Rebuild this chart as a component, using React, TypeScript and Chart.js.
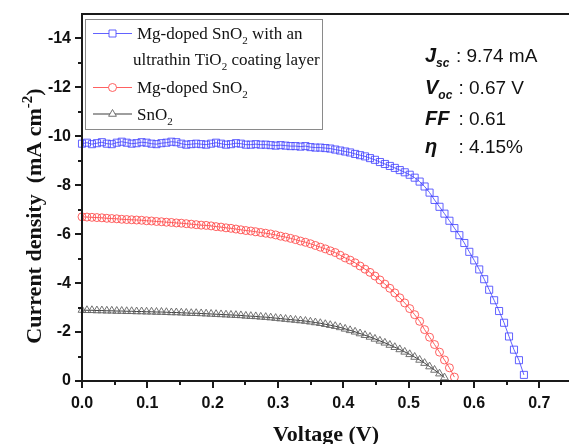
import React, { useEffect, useRef } from 'react';
import { Chart, registerables } from 'chart.js';

Chart.register(...registerables);

// Voltage scan step (V) shared by all three J–V curves
const V_STEP = 0.0076;

// Current density (mA cm-2), one value per voltage step
const BLUE_J = [
  -9.70, -9.74, -9.68, -9.72, -9.76, -9.70, -9.68, -9.74, -9.78, -9.74,
  -9.70, -9.72, -9.76, -9.74, -9.70, -9.68, -9.72, -9.74, -9.78, -9.76,
  -9.70, -9.66, -9.68, -9.70, -9.68, -9.66, -9.70, -9.74, -9.70, -9.66,
  -9.68, -9.72, -9.70, -9.66, -9.66, -9.68, -9.66, -9.66, -9.64, -9.62,
  -9.64, -9.62, -9.60, -9.60, -9.58, -9.60, -9.56, -9.54, -9.54, -9.52,
  -9.50, -9.46, -9.42, -9.38, -9.34, -9.28, -9.23, -9.18, -9.11, -9.04,
  -8.95, -8.87, -8.79, -8.71, -8.62, -8.53, -8.43, -8.31, -8.15, -7.95,
  -7.70, -7.40, -7.12, -6.84, -6.55, -6.25, -5.96, -5.64, -5.28, -4.93,
  -4.56, -4.16, -3.73, -3.30, -2.86, -2.38, -1.82, -1.28, -0.85, -0.25,
];

const RED_J = [
  -6.71, -6.70, -6.69, -6.68, -6.67, -6.65, -6.64, -6.63, -6.61, -6.60,
  -6.59, -6.58, -6.57, -6.55, -6.54, -6.52, -6.51, -6.49, -6.48, -6.46,
  -6.45, -6.43, -6.41, -6.39, -6.37, -6.36, -6.34, -6.31, -6.29, -6.26,
  -6.24, -6.21, -6.18, -6.15, -6.13, -6.10, -6.07, -6.04, -6.01, -5.97,
  -5.92, -5.88, -5.83, -5.78, -5.72, -5.67, -5.61, -5.54, -5.47, -5.40,
  -5.32, -5.25, -5.14, -5.03, -4.94, -4.83, -4.70, -4.57, -4.44, -4.29,
  -4.13, -3.96, -3.79, -3.60, -3.40, -3.19, -2.96, -2.71, -2.44, -2.10,
  -1.79, -1.49, -1.18, -0.86, -0.54, -0.16,
];

const GRAY_J = [
  -2.90, -2.89, -2.89, -2.88, -2.88, -2.87, -2.87, -2.86, -2.86, -2.85,
  -2.85, -2.84, -2.84, -2.83, -2.83, -2.82, -2.82, -2.81, -2.80, -2.80,
  -2.79, -2.78, -2.77, -2.77, -2.76, -2.75, -2.74, -2.73, -2.72, -2.71,
  -2.70, -2.69, -2.68, -2.66, -2.65, -2.64, -2.62, -2.61, -2.59, -2.57,
  -2.55, -2.53, -2.51, -2.49, -2.47, -2.45, -2.42, -2.39, -2.36, -2.32,
  -2.28, -2.24, -2.19, -2.13, -2.07, -2.01, -1.94, -1.87, -1.80, -1.72,
  -1.64, -1.56, -1.47, -1.38, -1.29, -1.19, -1.09, -0.98, -0.86, -0.73,
  -0.59, -0.45, -0.30, -0.14,
];

// Axis ticks
const X_TICKS = [0, 0.1, 0.2, 0.3, 0.4, 0.5, 0.6, 0.7];
const X_MINOR = [0.05, 0.15, 0.25, 0.35, 0.45, 0.55, 0.65];
const Y_TICKS = [0, -2, -4, -6, -8, -10, -12, -14];
const Y_MINOR = [-1, -3, -5, -7, -9, -11, -13];

// Texts
const X_TITLE = 'Voltage (V)';
const Y_TITLE_MAIN = 'Current density  (mA cm';
const Y_TITLE_SUP = '-2';
const Y_TITLE_END = ')';
const SERIES_NAMES = ['Mg-doped SnO2 with an ultrathin TiO2 coating layer', 'Mg-doped SnO2', 'SnO2'];
const ANNOT_LABELS = ['J', 'V', 'FF', 'η'];
const ANNOT_SUBS = ['sc', 'oc', '', ''];
const ANNOT_VALUES = [': 9.74 mA', ': 0.67 V', ': 0.61', ': 4.15%'];

const BLUE = 'rgba(70,70,255,0.85)';
const RED = 'rgba(255,80,80,0.9)';
const GRAY = 'rgba(100,100,100,0.9)';
const GRAY_LINE = 'rgba(40,40,40,0.9)';

const SANS = '"Liberation Sans", Arial, sans-serif';
const SERIF = '"Liberation Serif", "Times New Roman", serif';

const toPoints = (arr: number[]) => arr.map((j, i) => ({ x: +(i * V_STEP).toFixed(4), y: j }));

function drawMarker(ctx: CanvasRenderingContext2D, kind: string, x: number, y: number, color: string) {
  ctx.save();
  ctx.strokeStyle = color;
  ctx.lineWidth = 1;
  ctx.fillStyle = '#fff';
  ctx.beginPath();
  if (kind === 'rect') {
    ctx.rect(x - 3.5, y - 3.5, 7, 7);
  } else if (kind === 'circle') {
    ctx.arc(x, y, 4, 0, Math.PI * 2);
  } else {
    const r = 4.5;
    ctx.moveTo(x, y - r);
    ctx.lineTo(x + r * Math.sin(Math.PI / 3), y + r * 0.5);
    ctx.lineTo(x - r * Math.sin(Math.PI / 3), y + r * 0.5);
    ctx.closePath();
  }
  ctx.fill();
  ctx.stroke();
  ctx.restore();
}

// draws a run of [text, font, dy] segments from x, returns end x
function drawRun(ctx: CanvasRenderingContext2D, x: number, y: number, segs: [string, string, number][]) {
  let cx = x;
  for (const [t, f, dy] of segs) {
    ctx.font = f;
    ctx.fillText(t, cx, y + dy);
    cx += ctx.measureText(t).width;
  }
  return cx;
}

const decorPlugin = {
  id: 'decor',
  afterDraw(chart: any) {
    const { ctx, chartArea: a, scales } = chart;
    const xs = scales.x;
    const ys = scales.y;
    ctx.save();
    // frame / axes
    ctx.strokeStyle = '#1a1a1a';
    ctx.lineWidth = 2;
    ctx.beginPath();
    ctx.moveTo(a.left, a.top);
    ctx.lineTo(a.right, a.top);
    ctx.lineTo(a.right, a.bottom);
    ctx.moveTo(a.left, a.top - 1);
    ctx.lineTo(a.left, a.bottom);
    ctx.lineTo(a.right, a.bottom);
    ctx.stroke();
    // ticks
    ctx.lineWidth = 2;
    ctx.beginPath();
    for (const v of X_TICKS) {
      const px = Math.round(xs.getPixelForValue(v));
      ctx.moveTo(px, a.bottom);
      ctx.lineTo(px, a.bottom + 7);
    }
    for (const v of X_MINOR) {
      const px = Math.round(xs.getPixelForValue(v));
      ctx.moveTo(px, a.bottom);
      ctx.lineTo(px, a.bottom + 4);
    }
    for (const v of Y_TICKS) {
      const py = Math.round(ys.getPixelForValue(v));
      ctx.moveTo(a.left, py);
      ctx.lineTo(a.left - 7, py);
    }
    for (const v of Y_MINOR) {
      const py = Math.round(ys.getPixelForValue(v));
      ctx.moveTo(a.left, py);
      ctx.lineTo(a.left - 4, py);
    }
    ctx.stroke();

    // axis titles
    ctx.fillStyle = '#111';
    ctx.textBaseline = 'alphabetic';
    ctx.textAlign = 'left';
    ctx.font = `bold 22px ${SERIF}`;
    const xtW = ctx.measureText(X_TITLE).width;
    ctx.fillText(X_TITLE, (a.left + a.right) / 2 - xtW / 2 - 1, 441);

    ctx.save();
    ctx.translate(41, 216);
    ctx.rotate(-Math.PI / 2);
    const mainF = `bold 22px ${SERIF}`;
    const supF = `bold 15px ${SERIF}`;
    ctx.font = mainF;
    const w1 = ctx.measureText(Y_TITLE_MAIN).width;
    const w3 = ctx.measureText(Y_TITLE_END).width;
    ctx.font = supF;
    const w2 = ctx.measureText(Y_TITLE_SUP).width;
    const tot = w1 + w2 + w3;
    drawRun(ctx, -tot / 2, 0, [
      [Y_TITLE_MAIN, mainF, 0],
      [Y_TITLE_SUP, supF, -9],
      [Y_TITLE_END, mainF, 0],
    ]);
    ctx.restore();

    // legend box
    ctx.strokeStyle = '#8a8a8a';
    ctx.lineWidth = 1;
    ctx.strokeRect(85.5, 19.5, 237, 110);
    const legF = `17px ${SERIF}`;
    const subF = `11px ${SERIF}`;
    const rows = [
      { y: 33.5, color: BLUE, line: BLUE, kind: 'rect' },
      { y: 87.5, color: RED, line: RED, kind: 'circle' },
      { y: 114, color: GRAY, line: GRAY_LINE, kind: 'triangle' },
    ];
    rows.forEach((r) => {
      ctx.strokeStyle = r.line;
      ctx.lineWidth = 1;
      ctx.beginPath();
      ctx.moveTo(93, r.y);
      ctx.lineTo(132, r.y);
      ctx.stroke();
      drawMarker(ctx, r.kind, 112.5, r.y, r.color);
    });
    ctx.fillStyle = '#111';
    // SERIES_NAMES split with subscripts
    const n0 = SERIES_NAMES[0];
    drawRun(ctx, 137, 39, [
      [n0.slice(0, 12), legF, 0],
      ['2', subF, 5],
      [n0.slice(13, 21), legF, 0],
    ]);
    drawRun(ctx, 133, 65, [
      [n0.slice(22, 35), legF, 0],
      ['2', subF, 5],
      [n0.slice(36), legF, 0],
    ]);
    drawRun(ctx, 137, 93, [
      [SERIES_NAMES[1].slice(0, 12), legF, 0],
      ['2', subF, 5],
    ]);
    drawRun(ctx, 137, 119.5, [
      [SERIES_NAMES[2].slice(0, 3), legF, 0],
      ['2', subF, 5],
    ]);

    // annotation block
    const baselines = [62, 94, 125, 153];
    const labF = `bold italic 20px ${SANS}`;
    const lsubF = `bold italic 12px ${SANS}`;
    const valF = `19px ${SANS}`;
    ctx.fillStyle = '#111';
    ANNOT_LABELS.forEach((lab, i) => {
      const b = baselines[i];
      drawRun(ctx, 425, b, [
        [lab, labF, 0],
        [ANNOT_SUBS[i], lsubF, 5],
      ]);
      ctx.font = valF;
      ctx.fillText(ANNOT_VALUES[i], i === 0 ? 456 : 458.5, b);
    });
    ctx.restore();
  },
};

export default function App() {
  const ref = useRef<HTMLCanvasElement>(null);
  useEffect(() => {
    if (!ref.current) return;
    const chart = new Chart(ref.current, {
      type: 'line',
      data: {
        datasets: [
          {
            label: SERIES_NAMES[0],
            data: toPoints(BLUE_J),
            borderColor: BLUE,
            backgroundColor: 'transparent',
            pointBorderColor: BLUE,
            pointBackgroundColor: 'transparent',
            pointStyle: 'rect',
            pointRadius: 5,
            pointBorderWidth: 1,
            borderWidth: 1,
            clip: false as any,
          },
          {
            label: SERIES_NAMES[1],
            data: toPoints(RED_J),
            borderColor: RED,
            backgroundColor: 'transparent',
            pointBorderColor: RED,
            pointBackgroundColor: 'transparent',
            pointStyle: 'circle',
            pointRadius: 4,
            pointBorderWidth: 1,
            borderWidth: 1,
            clip: false as any,
          },
          {
            label: SERIES_NAMES[2],
            data: toPoints(GRAY_J),
            borderColor: GRAY_LINE,
            backgroundColor: 'transparent',
            pointBorderColor: GRAY,
            pointBackgroundColor: 'transparent',
            pointStyle: 'triangle',
            pointRadius: 4.5,
            pointBorderWidth: 1,
            borderWidth: 1,
            clip: false as any,
          },
        ],
      },
      options: {
        animation: false,
        responsive: false,
        maintainAspectRatio: false,
        devicePixelRatio: 1,
        layout: { padding: { top: 14, right: 8, left: 0, bottom: 0 } },
        plugins: { legend: { display: false }, title: { display: false }, tooltip: { enabled: false } },
        scales: {
          x: {
            type: 'linear',
            min: 0,
            max: 0.75,
            grid: { display: false },
            border: { display: false },
            afterBuildTicks: (s: any) => {
              s.ticks = X_TICKS.map((v) => ({ value: v }));
            },
            afterFit: (s: any) => {
              s.height = 63;
            },
            ticks: {
              padding: 5,
              color: '#111',
              font: { family: SANS, size: 16, weight: 'bold' },
              callback: (v: any) => Number(v).toFixed(1),
              maxRotation: 0,
            },
          },
          y: {
            type: 'linear',
            reverse: true,
            min: -15,
            max: 0,
            grid: { display: false },
            border: { display: false },
            afterBuildTicks: (s: any) => {
              s.ticks = Y_TICKS.map((v) => ({ value: v }));
            },
            afterFit: (s: any) => {
              s.width = 82;
            },
            ticks: {
              padding: 3,
              color: '#111',
              font: { family: SANS, size: 16, weight: 'bold' },
              callback: (v: any) => String(v),
            },
          },
        },
      },
      plugins: [decorPlugin],
    });
    return () => chart.destroy();
  }, []);
  return (
    <div style={{ position: 'absolute', left: 0, top: 0, width: 569, height: 444, overflow: 'hidden', background: '#fff' }}>
      <canvas ref={ref} width={580} height={444} style={{ display: 'block', width: 580, height: 444 }} />
    </div>
  );
}
